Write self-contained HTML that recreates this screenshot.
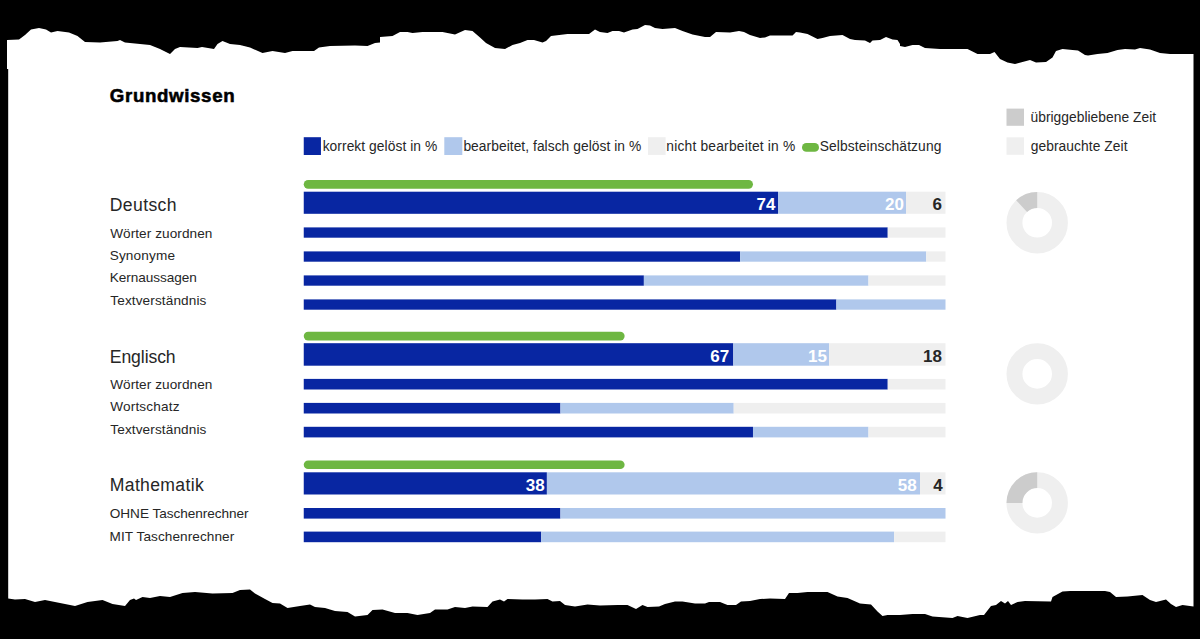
<!DOCTYPE html>
<html><head><meta charset="utf-8"><title>Grundwissen</title>
<style>
html,body{margin:0;padding:0;background:#000;}
body{width:1200px;height:639px;overflow:hidden;}
svg{display:block;font-family:"Liberation Sans",sans-serif;}
text{white-space:pre}
</style></head><body>
<svg width="1200" height="639" viewBox="0 0 1200 639">
<rect width="1200" height="639" fill="#000"/>
<polygon fill="#fff" points="7,69 7,40 19,39.5 25,35 31,29.5 39,28 46,29.5 51,32.5 57.5,31 69,32.5 77.5,36 85,42 100,42.5 117.5,41 120,40 125,42.5 140,44 150,45 160,49 170,54 175,49 180,47 197.5,48 202,47 214,49 217.5,44 222.5,41 230,44 240,45 250,47.5 262.5,53 272.5,51 285,53 292.5,51 300,51 314,51 319,47.5 330,46 355,45.5 367.5,46 375,43 380,42.5 380,37 392.5,36 400,32 407.5,32 412.5,33 422.5,32 442.5,32 455,34.5 465,30 472.5,31 480,37.5 486,43 495,48 505,49 512.5,45 520,43 527.5,40 534,40 542.5,42.5 546,41 551,36 567.5,34 589,34 595,29.5 600,32 607.5,33 612.5,31 619,31 624,32.5 632.5,29.5 637.5,29 645,25 650,25.5 655,28 662.5,29 675,28 682.5,31 692.5,34.5 705,37 710,37 716,32 730,32.5 739,31 744,32 750,35 760,38 765,37.5 770,35.5 792.5,35.5 796,32 800,32.5 807.5,34 817.5,39 822.5,38 830,36 842.5,35 850,39 855,40 865,40.5 870,43 872.5,40.5 880,40 886,37 892.5,39.5 897.5,40 900,44 900,46 905,47 912.5,45 919,45 925,48 940,49 967.5,49 977.5,54 990,54 994.5,52 1000,59 1007.5,62.5 1015,64 1022.5,62 1030,60 1036,62.5 1046,62 1052.5,57.5 1056,51 1062.5,49 1072.5,50 1078,50.5 1085,55 1088,55.5 1097.5,54 1107.5,53 1117.5,50 1125,49 1135,49.5 1140,48 1150,49.5 1160,53 1170,54 1193.5,54 1193.5,606.5 1182.5,605 1176,607 1171,604 1166,599.5 1156,602 1150,600 1142.5,595 1127.5,596.5 1116,597 1110,592 1105,591 1070,591 1062.5,591.5 1052.5,597 1051,601.5 1025,601 1017.5,602 1011,605 1008,601 1005,603.5 1001,601 996,605 991,606 984,615 980,615 967.5,618 957.5,616 952.5,618 932.5,616.5 925,614 912.5,614 900,615 887.5,615 882.5,616 877.5,611.5 871,604.5 860,603.5 847.5,598 837.5,596.5 827.5,592 807.5,592 797.5,593 789,593 785,599 770,598.5 760,599 750,601 741,601.5 736,605 727.5,605 720,602 709,602 705,603.5 695,603.5 682.5,601.5 675,601.5 665,604 659,606.5 647.5,607 642.5,605 636,609 627.5,605 617.5,605 600,605.5 587.5,604.5 575,606.5 565,605 560,601 552.5,601.5 547.5,599 535,599.5 522.5,599.5 507.5,599 504,601.5 500,599.5 492.5,601.5 487.5,607 472.5,606.5 465,608 455,607 447.5,609.5 435,609.5 430,613 417.5,615 407.5,613 395,613 382.5,609.5 372.5,610 367.5,615 355,616.5 347.5,612 335,611 325,608 315,607 310,604.5 300,606 287.5,608 280,603.5 272.5,603 265,599 255,593.5 250,589.5 240,590 232.5,593 212.5,593.5 195,592 182.5,593 170,597 160,596 150,598 142.5,597 136,600 134,598.5 130,600 125,606 112.5,604 102.5,600 87.5,602 75,606 60,603 45,600 35,602 25,599 15,599.5 8.2,598.5 8.2,69"/>
<rect x="303.75" y="137.20" width="17.20" height="17.80" fill="#0826a2"/>
<rect x="444.30" y="137.20" width="18.00" height="17.80" fill="#b0c8ec"/>
<rect x="648.00" y="137.20" width="17.60" height="17.70" fill="#efefef"/>
<rect x="802.00" y="143.00" width="17.00" height="8.80" fill="#6eb742" rx="4.4"/>
<rect x="1006.50" y="108.60" width="17.50" height="17.20" fill="#cccccc"/>
<rect x="1006.50" y="137.30" width="17.50" height="17.50" fill="#efefef"/>
<text x="322.63" y="151.40" font-size="13.8" font-weight="normal" fill="#262626" textLength="114.58" lengthAdjust="spacing">korrekt gelöst in %</text>
<text x="463.40" y="151.40" font-size="13.8" font-weight="normal" fill="#262626" textLength="177.77" lengthAdjust="spacing">bearbeitet, falsch gelöst in %</text>
<text x="666.34" y="151.40" font-size="13.8" font-weight="normal" fill="#262626" textLength="128.95" lengthAdjust="spacing">nicht bearbeitet in %</text>
<text x="819.74" y="151.40" font-size="13.8" font-weight="normal" fill="#262626" textLength="121.62" lengthAdjust="spacing">Selbsteinschätzung</text>
<text x="1030.49" y="121.50" font-size="13.8" font-weight="normal" fill="#262626" textLength="125.58" lengthAdjust="spacing">übriggebliebene Zeit</text>
<text x="1030.70" y="150.60" font-size="13.8" font-weight="normal" fill="#262626" textLength="96.84" lengthAdjust="spacing">gebrauchte Zeit</text>
<text x="109.79" y="101.90" font-size="18.7" font-weight="bold" fill="#000" textLength="124.83" lengthAdjust="spacing" stroke="#000" stroke-width="0.55">Grundwissen</text>
<rect x="303.75" y="180.00" width="449.23" height="8.70" fill="#6eb742" rx="4.35"/>
<rect x="303.75" y="191.70" width="474.25" height="22.10" fill="#0826a2"/>
<rect x="778.00" y="191.70" width="128.00" height="22.10" fill="#b0c8ec"/>
<rect x="906.00" y="191.70" width="39.50" height="22.10" fill="#efefef"/>
<text x="109.79" y="210.60" font-size="17.6" font-weight="normal" fill="#262626" textLength="66.77" lengthAdjust="spacing">Deutsch</text>
<rect x="303.75" y="227.40" width="583.99" height="10.30" fill="#0826a2"/>
<rect x="887.74" y="227.40" width="57.76" height="10.30" fill="#efefef"/>
<text x="110.13" y="237.50" font-size="13.6" font-weight="normal" fill="#262626" textLength="102.19" lengthAdjust="spacing">Wörter zuordnen</text>
<rect x="303.75" y="251.40" width="436.39" height="10.30" fill="#0826a2"/>
<rect x="740.14" y="251.40" width="186.11" height="10.30" fill="#b0c8ec"/>
<rect x="926.25" y="251.40" width="19.25" height="10.30" fill="#efefef"/>
<text x="109.64" y="260.00" font-size="13.6" font-weight="normal" fill="#262626" textLength="65.35" lengthAdjust="spacing">Synonyme</text>
<rect x="303.75" y="275.40" width="340.13" height="10.30" fill="#0826a2"/>
<rect x="643.88" y="275.40" width="224.61" height="10.30" fill="#b0c8ec"/>
<rect x="868.49" y="275.40" width="77.01" height="10.30" fill="#efefef"/>
<text x="109.72" y="282.45" font-size="13.6" font-weight="normal" fill="#262626" textLength="87.21" lengthAdjust="spacing">Kernaussagen</text>
<rect x="303.75" y="299.40" width="532.65" height="10.30" fill="#0826a2"/>
<rect x="836.40" y="299.40" width="109.10" height="10.30" fill="#b0c8ec"/>
<text x="110.32" y="305.30" font-size="13.6" font-weight="normal" fill="#262626" textLength="96.06" lengthAdjust="spacing">Textverständnis</text>
<rect x="303.75" y="331.75" width="320.88" height="8.70" fill="#6eb742" rx="4.35"/>
<rect x="303.75" y="343.20" width="429.55" height="22.50" fill="#0826a2"/>
<rect x="733.30" y="343.20" width="95.90" height="22.50" fill="#b0c8ec"/>
<rect x="829.20" y="343.20" width="116.30" height="22.50" fill="#efefef"/>
<text x="109.78" y="362.50" font-size="17.6" font-weight="normal" fill="#262626" textLength="65.85" lengthAdjust="spacing">Englisch</text>
<rect x="303.75" y="378.90" width="583.99" height="10.60" fill="#0826a2"/>
<rect x="887.74" y="378.90" width="57.76" height="10.60" fill="#efefef"/>
<text x="110.13" y="388.75" font-size="13.6" font-weight="normal" fill="#262626" textLength="102.19" lengthAdjust="spacing">Wörter zuordnen</text>
<rect x="303.75" y="402.90" width="256.70" height="10.60" fill="#0826a2"/>
<rect x="560.45" y="402.90" width="173.27" height="10.60" fill="#b0c8ec"/>
<rect x="733.72" y="402.90" width="211.78" height="10.60" fill="#efefef"/>
<text x="110.13" y="411.25" font-size="13.6" font-weight="normal" fill="#262626" textLength="69.45" lengthAdjust="spacing">Wortschatz</text>
<rect x="303.75" y="426.80" width="449.23" height="10.60" fill="#0826a2"/>
<rect x="752.98" y="426.80" width="115.51" height="10.60" fill="#b0c8ec"/>
<rect x="868.49" y="426.80" width="77.01" height="10.60" fill="#efefef"/>
<text x="110.32" y="434.25" font-size="13.6" font-weight="normal" fill="#262626" textLength="96.06" lengthAdjust="spacing">Textverständnis</text>
<rect x="303.75" y="460.40" width="320.88" height="8.70" fill="#6eb742" rx="4.35"/>
<rect x="303.75" y="472.30" width="243.15" height="22.20" fill="#0826a2"/>
<rect x="546.90" y="472.30" width="373.10" height="22.20" fill="#b0c8ec"/>
<rect x="920.00" y="472.30" width="25.50" height="22.20" fill="#efefef"/>
<text x="109.79" y="491.25" font-size="17.6" font-weight="normal" fill="#262626" textLength="93.93" lengthAdjust="spacing">Mathematik</text>
<rect x="303.75" y="508.00" width="256.70" height="10.60" fill="#0826a2"/>
<rect x="560.45" y="508.00" width="385.05" height="10.60" fill="#b0c8ec"/>
<text x="109.81" y="518.00" font-size="13.6" font-weight="normal" fill="#262626" textLength="138.64" lengthAdjust="spacing">OHNE Taschenrechner</text>
<rect x="303.75" y="531.60" width="237.45" height="10.60" fill="#0826a2"/>
<rect x="541.20" y="531.60" width="352.96" height="10.60" fill="#b0c8ec"/>
<rect x="894.16" y="531.60" width="51.34" height="10.60" fill="#efefef"/>
<text x="109.59" y="540.60" font-size="13.6" font-weight="normal" fill="#262626" textLength="124.68" lengthAdjust="spacing">MIT Taschenrechner</text>
<text x="775.40" y="210.10" font-size="17" font-weight="bold" fill="#fff" text-anchor="end">74</text>
<text x="904.00" y="210.10" font-size="17" font-weight="bold" fill="#fff" text-anchor="end">20</text>
<text x="942.00" y="210.10" font-size="17" font-weight="bold" fill="#262626" text-anchor="end">6</text>
<text x="729.20" y="362.10" font-size="17" font-weight="bold" fill="#fff" text-anchor="end">67</text>
<text x="826.90" y="362.10" font-size="17" font-weight="bold" fill="#fff" text-anchor="end">15</text>
<text x="942.00" y="362.10" font-size="17" font-weight="bold" fill="#262626" text-anchor="end">18</text>
<text x="544.60" y="491.10" font-size="17" font-weight="bold" fill="#fff" text-anchor="end">38</text>
<text x="916.60" y="491.10" font-size="17" font-weight="bold" fill="#fff" text-anchor="end">58</text>
<text x="942.60" y="491.10" font-size="17" font-weight="bold" fill="#262626" text-anchor="end">4</text>
<circle cx="1037.2" cy="222.7" r="22.75" fill="none" stroke="#efefef" stroke-width="15.899999999999999"/>
<path fill="#cccccc" d="M1037.20,192.00 A30.7,30.7 0 0 0 1016.18,200.32 L1027.07,211.91 A14.8,14.8 0 0 1 1037.20,207.90 Z"/>
<circle cx="1037.2" cy="373.9" r="22.75" fill="none" stroke="#efefef" stroke-width="15.899999999999999"/>
<circle cx="1037.2" cy="502.9" r="22.75" fill="none" stroke="#efefef" stroke-width="15.899999999999999"/>
<path fill="#cccccc" d="M1037.20,472.20 A30.7,30.7 0 0 0 1006.50,502.90 L1022.40,502.90 A14.8,14.8 0 0 1 1037.20,488.10 Z"/>
</svg>
</body></html>
